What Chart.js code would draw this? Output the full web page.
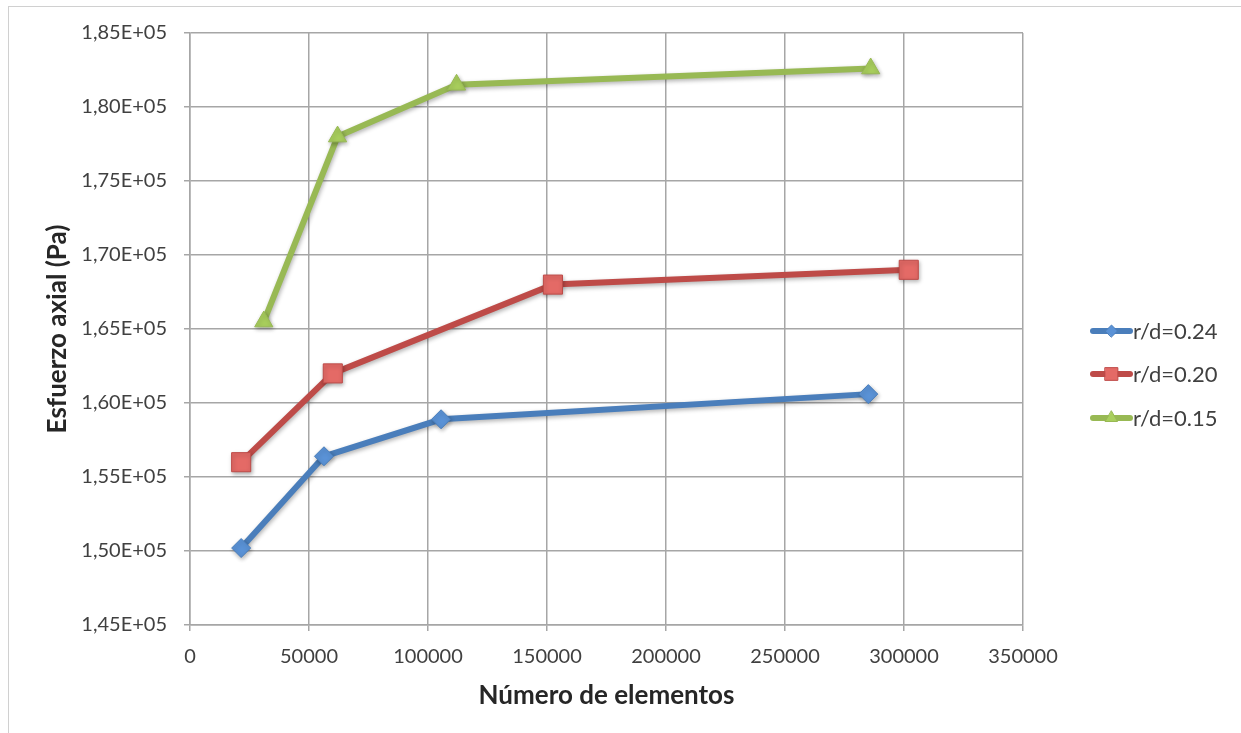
<!DOCTYPE html>
<html>
<head>
<meta charset="utf-8">
<script src="https://cdn.jsdelivr.net/npm/chart.js@4.4.1/dist/chart.umd.min.js"></script>
<style>
  html, body { margin: 0; padding: 0; background: #fff; }
  #wrap { position: relative; width: 1241px; height: 733px; }
  #frame { position: absolute; left: 8px; top: 6px; width: 1240px; height: 740px; border: 1px solid #d0d0d0; box-sizing: border-box; pointer-events: none; }
</style>
</head>
<body>
<div id="wrap">
  <canvas id="c" width="1241" height="733"></canvas>
  <div id="frame"></div>
</div>
<script>
// ---- data ----
const labels = ["r/d=0.24", "r/d=0.20", "r/d=0.15"];
const x_024 = [21500, 56300, 105500, 285000];
const y_024 = [150200, 156400, 158900, 160600];
const x_020 = [21500, 60000, 152500, 302000];
const y_020 = [156000, 162000, 168000, 169000];
const x_015 = [31000, 62000, 112000, 286000];
const y_015 = [165500, 178000, 181500, 182600];

const lineColors = ["#4a7ebb", "#be4b48", "#98b954"];
const markColors = ["#5a92d6", "#e46a66", "#a9cf5d"];
const markStyles = ["rectRot", "rect", "triangle"];
const markRadius = [9.5, 13.5, 10.5];
const legendRadius = [6, 9, 7];

function pts(xs, ys) {
  return xs.map((x, i) => ({ x: x, y: ys[i] }));
}
const series = [pts(x_024, y_024), pts(x_020, y_020), pts(x_015, y_015)];

const font = "Lato, 'Open Sans', sans-serif";

// shadow under lines, like the office chart
const shadowPlugin = {
  id: "shadow",
  beforeDatasetDraw(chart) {
    const ctx = chart.ctx;
    ctx.save();
    ctx.shadowColor = "rgba(0,0,0,0.3)";
    ctx.shadowBlur = 4;
    ctx.shadowOffsetX = 1;
    ctx.shadowOffsetY = 2;
  },
  afterDatasetDraw(chart) {
    chart.ctx.restore();
  }
};

// legend on the right: line with marker + text
const sideLegend = {
  id: "sideLegend",
  afterDraw(chart) {
    const ctx = chart.ctx;
    const x0 = 1090, x1 = 1133;
    const ys = [331, 374, 418];
    chart.data.datasets.forEach((ds, i) => {
      const y = ys[i];
      ctx.save();
      ctx.strokeStyle = ds.borderColor;
      ctx.lineWidth = 6;
      ctx.lineCap = "round";
      ctx.beginPath();
      ctx.moveTo(x0 + 3, y);
      ctx.lineTo(x1 - 3, y);
      ctx.stroke();
      ctx.fillStyle = ds.pointBackgroundColor;
      ctx.strokeStyle = ds.pointBorderColor;
      ctx.lineWidth = 1;
      Chart.helpers.drawPoint(ctx, {
        pointStyle: ds.pointStyle,
        radius: legendRadius[i],
        borderWidth: 1,
        rotation: 0
      }, (x0 + x1) / 2, y);
      ctx.restore();
      ctx.fillStyle = "#404040";
      ctx.font = "22px " + font;
      ctx.textBaseline = "middle";
      ctx.textAlign = "left";
      ctx.fillText(ds.label, x1, y + 1);
    });
  }
};

new Chart(document.getElementById("c"), {
  type: "line",
  data: {
    datasets: series.map((d, i) => ({
      label: labels[i],
      data: d,
      borderColor: lineColors[i],
      borderWidth: 6,
      pointStyle: markStyles[i],
      pointRadius: markRadius[i],
      pointBackgroundColor: markColors[i],
      pointBorderColor: lineColors[i],
      pointBorderWidth: 1,
      tension: 0,
      fill: false
    }))
  },
  options: {
    responsive: false,
    animation: false,
    layout: { padding: { left: 30, right: 218, top: 33, bottom: 12 } },
    plugins: {
      legend: { display: false },
      tooltip: { enabled: false }
    },
    scales: {
      x: {
        type: "linear",
        min: 0,
        max: 350000,
        ticks: {
          stepSize: 50000,
          color: "#404040",
          font: { family: font, size: 20 },
          padding: 14,
          callback: v => String(v)
        },
        grid: { color: "#a6a6a6", lineWidth: 1.5, tickLength: 6, drawOnChartArea: true },
        border: { color: "#a6a6a6", width: 1.5 },
        title: {
          display: true,
          text: "Número de elementos",
          color: "#262626",
          font: { family: font, size: 26, weight: "bold" },
          padding: { top: 6, bottom: 10 }
        },
        afterFit: s => { s.height = 96; }
      },
      y: {
        min: 145000,
        max: 185000,
        ticks: {
          stepSize: 5000,
          color: "#404040",
          font: { family: font, size: 20 },
          padding: 17,
          callback: v => (v / 1e5).toFixed(2).replace(".", ",") + "E+05"
        },
        grid: { color: "#a6a6a6", lineWidth: 1.5, tickLength: 6 },
        border: { color: "#a6a6a6", width: 1.5 },
        title: {
          display: true,
          text: "Esfuerzo axial (Pa)",
          color: "#262626",
          font: { family: font, size: 26, weight: "bold" },
          padding: { top: 12, bottom: 4 }
        },
        afterFit: s => { s.width = 160; }
      }
    }
  },
  plugins: [shadowPlugin, sideLegend]
});
</script>
</body>
</html>
